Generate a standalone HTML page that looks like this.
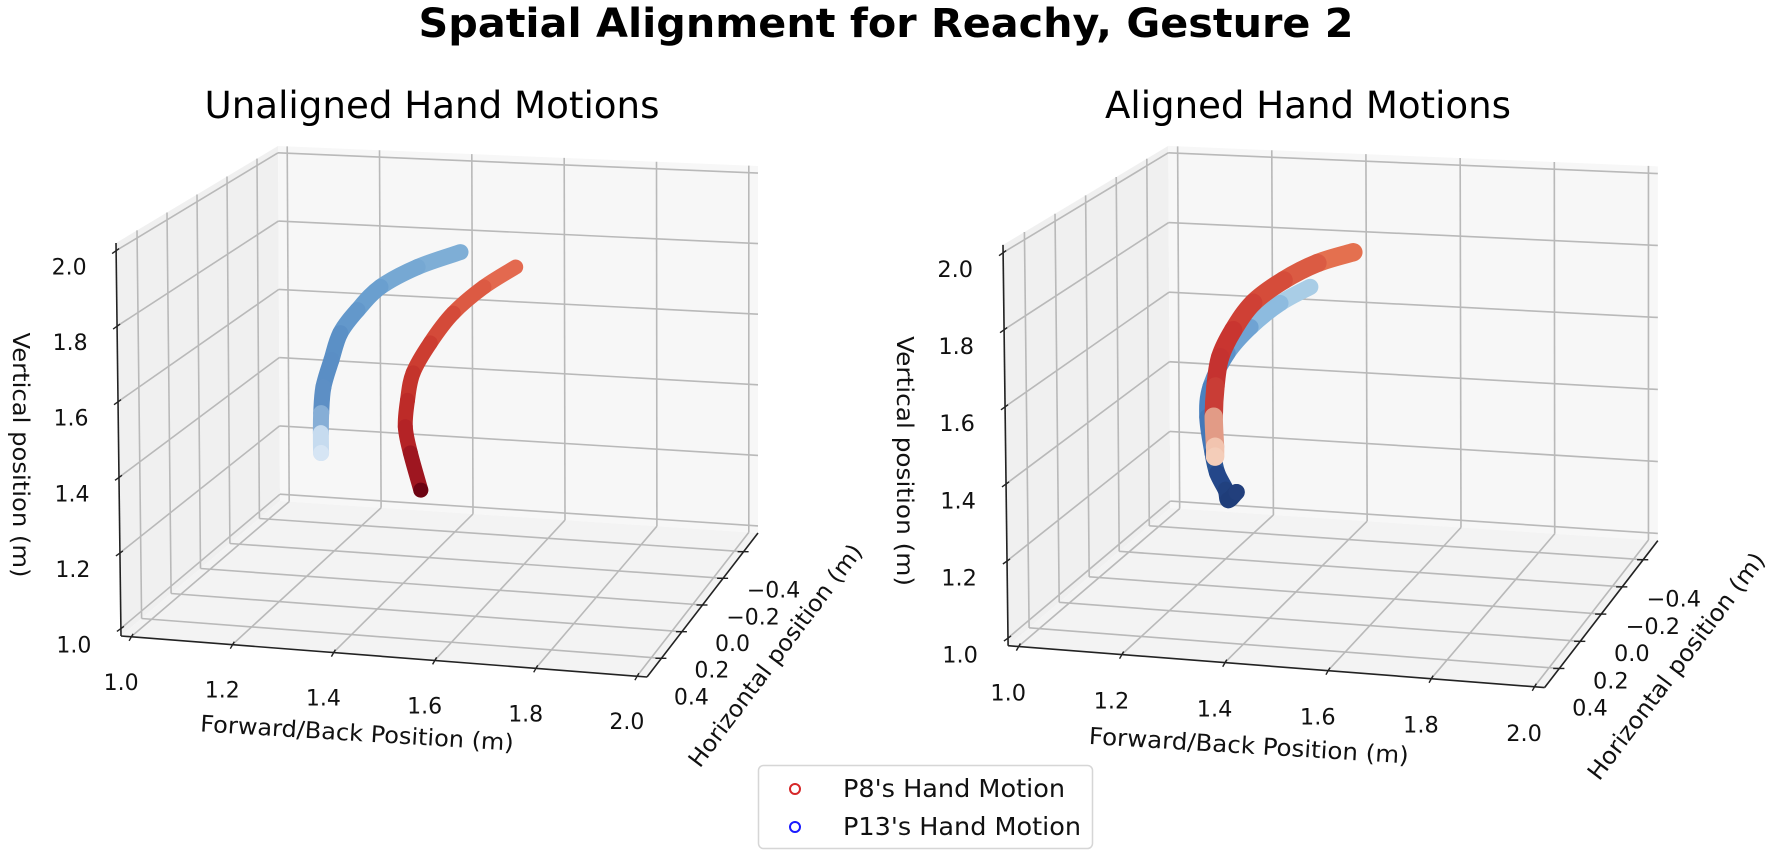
<!DOCTYPE html>
<html>
<head>
<meta charset="utf-8">
<style>
  html,body{margin:0;padding:0;background:#fff;}
  svg{display:block;font-family:"DejaVu Sans","Liberation Sans",sans-serif;}
</style>
</head>
<body>
<svg id="fig" width="1772" height="857" viewBox="0 0 1772 857" xmlns="http://www.w3.org/2000/svg">
  <rect x="0" y="0" width="1772" height="857" fill="#ffffff"/>
  <text x="886" y="37" text-anchor="middle" font-size="40" font-weight="bold" fill="#000" textLength="935" lengthAdjust="spacingAndGlyphs">Spatial Alignment for Reachy, Gesture 2</text>
  <text x="432" y="118" text-anchor="middle" font-size="37" fill="#000" textLength="455" lengthAdjust="spacingAndGlyphs">Unaligned Hand Motions</text>
  <text x="1308" y="118" text-anchor="middle" font-size="37" fill="#000" textLength="406" lengthAdjust="spacingAndGlyphs">Aligned Hand Motions</text>
  <g id="panelL"></g>
  <g id="panelR" transform="translate(1003,252) scale(1.02) translate(-116,-250)"></g>
  <g>
    <rect x="758.5" y="765.5" width="334" height="83" rx="5" fill="#fff" stroke="#d6d6d6" stroke-width="1.5"/>
    <circle cx="795" cy="789" r="5" fill="none" stroke="#d62728" stroke-width="2"/>
    <text x="843" y="797" font-size="25" fill="#111" textLength="222" lengthAdjust="spacingAndGlyphs">P8's Hand Motion</text>
    <circle cx="795" cy="827" r="5" fill="none" stroke="#1a1aff" stroke-width="2"/>
    <text x="843" y="835" font-size="25" fill="#111" textLength="238" lengthAdjust="spacingAndGlyphs">P13's Hand Motion</text>
  </g>
</svg>
<script>
// ---- axis data ----
const xTicks = [1.0, 1.2, 1.4, 1.6, 1.8, 2.0];
const xTickLabels = ["1.0", "1.2", "1.4", "1.6", "1.8", "2.0"];
const yTicks = [-0.4, -0.2, 0.0, 0.2, 0.4];
const yTickLabels = ["\u22120.4", "\u22120.2", "0.0", "0.2", "0.4"];
const zTicks = [1.0, 1.2, 1.4, 1.6, 1.8, 2.0];
const zTickLabels = ["1.0", "1.2", "1.4", "1.6", "1.8", "2.0"];
const xRange = [0.98, 2.02];
const yRange = [-0.54, 0.54];
const zRange = [0.98, 2.02];

// ---- series data (unaligned) ----
const p13UnalignedX = [1.524, 1.435, 1.358, 1.310, 1.274, 1.255, 1.238, 1.233, 1.232, 1.232];
const p13UnalignedY = [0, 0, 0, 0, 0, 0, 0, 0, 0, 0];
const p13UnalignedZ = [1.897, 1.850, 1.790, 1.723, 1.657, 1.581, 1.505, 1.433, 1.378, 1.323];
const p8UnalignedX = [1.638, 1.572, 1.508, 1.460, 1.424, 1.412, 1.407, 1.417, 1.438];
const p8UnalignedY = [0, 0, 0, 0, 0, 0, 0, 0, 0];
const p8UnalignedZ = [1.864, 1.805, 1.729, 1.644, 1.559, 1.483, 1.410, 1.339, 1.239];
// ---- series data (aligned) ----
const p8AlignedX = [1.522, 1.449, 1.380, 1.318, 1.277, 1.250, 1.240, 1.236, 1.238, 1.238];
const p8AlignedY = [0, 0, 0, 0, 0, 0, 0, 0, 0, 0];
const p8AlignedZ = [1.902, 1.868, 1.817, 1.752, 1.675, 1.600, 1.520, 1.438, 1.357, 1.330];
const p13AlignedX = [1.434, 1.373, 1.312, 1.265, 1.230, 1.223, 1.233, 1.242, 1.259, 1.264, 1.281];
const p13AlignedY = [0, 0, 0, 0, 0, 0, 0, 0, 0, 0, 0];
const p13AlignedZ = [1.803, 1.755, 1.686, 1.612, 1.518, 1.436, 1.340, 1.286, 1.242, 1.215, 1.238];

// ---- styles ----
const p13UnalignedColors = ["#7eaed6","#76a8d3","#6a9fcf","#6398cb","#5b90c6","#5a8ec5","#5d8fc5","#86aed6","#c6dbef","#d6e5f4"];
const p8UnalignedColors = ["#e3694f","#dc5a43","#d44a39","#cc3d31","#c4342c","#bd2b28","#b42326","#9e1620","#6d0312"];
const p8AlignedColors = ["#e4704f","#db5b43","#d54c3a","#cf4035","#c93530","#c53230","#c93d36","#e29b86","#f2c4af","#f4cdb9"];
const p13AlignedColors = ["#a9cde6","#8dbbdf","#6fa3d3","#5b91c8","#4a82c0","#4378b8","#2b5797","#24478a","#21417f","#1f3d79","#223f7c"];

const NS = "http://www.w3.org/2000/svg";
const C = {P000:[121,636],P100:[647,677],P010:[280,501],P110:[758,533],
           P001:[116,243],P101:[642,271],P011:[278,146],P111:[758,166]};
function lerp(a,b,t){return [a[0]+(b[0]-a[0])*t, a[1]+(b[1]-a[1])*t];}
function proj(x,y,z){
  const u=(x-xRange[0])/(xRange[1]-xRange[0]);
  const v=(yRange[1]-y)/(yRange[1]-yRange[0]);
  const w=(z-zRange[0])/(zRange[1]-zRange[0]);
  const c00=lerp(C.P000,C.P100,u), c10=lerp(C.P010,C.P110,u);
  const c01=lerp(C.P001,C.P101,u), c11=lerp(C.P011,C.P111,u);
  return lerp(lerp(c00,c10,v), lerp(c01,c11,v), w);
}
function mk(tag, attrs, parent){
  const e=document.createElementNS(NS,tag);
  for(const k in attrs) e.setAttribute(k, attrs[k]);
  parent.appendChild(e); return e;
}
function line(g,a,b,stroke,sw){
  return mk("line",{x1:a[0].toFixed(1),y1:a[1].toFixed(1),x2:b[0].toFixed(1),y2:b[1].toFixed(1),stroke:stroke,"stroke-width":sw},g);
}
function poly(g,pts,fill){
  return mk("polygon",{points:pts.map(p=>p[0].toFixed(1)+","+p[1].toFixed(1)).join(" "),fill:fill},g);
}
function f(n){return n.toFixed(1);}

function drawPanel(g, series){
  const x0=xRange[0],x1=xRange[1],yb=yRange[0],yf=yRange[1],z0=zRange[0],z1=zRange[1];
  let e;
  e=poly(g,[proj(x0,yf,z0),proj(x0,yb,z0),proj(x0,yb,z1),proj(x0,yf,z1)],"#f0f0f0");
  
  
  e=poly(g,[proj(x0,yb,z0),proj(x1,yb,z0),proj(x1,yb,z1),proj(x0,yb,z1)],"#f7f7f7");
  
  
  e=poly(g,[proj(x0,yf,z0),proj(x1,yf,z0),proj(x1,yb,z0),proj(x0,yb,z0)],"#f3f3f3");
  
  
  const gc="#b9b9b9", gw=1.6;
  xTicks.forEach(x=>{
    e=line(g,proj(x,yf,z0),proj(x,yb,z0),gc,gw);
    
    
    e=line(g,proj(x,yb,z0),proj(x,yb,z1),gc,gw);
    
    
  });
  yTicks.forEach(y=>{
    e=line(g,proj(x0,y,z0),proj(x1,y,z0),gc,gw);
    
    
    e=line(g,proj(x0,y,z0),proj(x0,y,z1),gc,gw);
    
    
  });
  zTicks.forEach(z=>{
    e=line(g,proj(x0,yf,z),proj(x0,yb,z),gc,gw);
    
    
    e=line(g,proj(x0,yb,z),proj(x1,yb,z),gc,gw);
    
    
  });
  const ac="#222", aw=1.6;
  e=line(g,proj(x0,yf,z0),proj(x0,yf,z1),ac,aw);
  
  
  e=line(g,proj(x0,yf,z0),proj(x1,yf,z0),ac,aw);
  
  
  e=line(g,proj(x1,yf,z0),proj(x1,yb,z0),ac,aw);
  
  
  zTicks.forEach((z,i)=>{
    const p=proj(x0,yf,z);
    e=line(g,[p[0]-4,p[1]+3],[p[0]+3,p[1]-2],ac,1.4);
    
    
    e=mk("text",{x:f(p[0]-47),y:f(p[1]+24),"text-anchor":"middle","font-size":"22",fill:"#111"},g);
    e.textContent=zTickLabels[i];
    
    
  });
  xTicks.forEach((x,i)=>{
    const p=proj(x,yf,z0);
    e=line(g,[p[0]-2,p[1]+4],[p[0]+2,p[1]-3],ac,1.4);
    
    
    e=mk("text",{x:f(p[0]-10),y:f(p[1]+53),"text-anchor":"middle","font-size":"22",fill:"#111"},g);
    e.textContent=xTickLabels[i];
    
    
  });
  yTicks.forEach((y,i)=>{
    const p=proj(x1,y,z0);
    e=line(g,[p[0]-6,p[1]],[p[0]+5,p[1]],ac,1.4);
    
    
    e=mk("text",{x:f(p[0]+30),y:f(p[1]+46),"text-anchor":"middle","font-size":"22",fill:"#111"},g);
    e.textContent=yTickLabels[i];
    
    
  });
  e=mk("text",{transform:"translate(20,455) rotate(90)","text-anchor":"middle","dominant-baseline":"central","font-size":"23",fill:"#111",textLength:"245",lengthAdjust:"spacingAndGlyphs"},g);
  e.textContent="Vertical position (m)";
  
  
  e=mk("text",{transform:"translate(357,734) rotate(3.5)","text-anchor":"middle","dominant-baseline":"central","font-size":"23",fill:"#111",textLength:"314",lengthAdjust:"spacingAndGlyphs"},g);
  e.textContent="Forward/Back Position (m)";
  
  
  e=mk("text",{transform:"translate(776,656) rotate(-53)","text-anchor":"middle","dominant-baseline":"central","font-size":"23",fill:"#111",textLength:"272",lengthAdjust:"spacingAndGlyphs"},g);
  e.textContent="Horizontal position (m)";
  
  
  series.forEach(s=>{
    const sg=mk("g",{},g);
    
    
    const pts=s.x.map((xv,i)=>proj(xv,s.y[i],s.z[i]));
    const n=pts.length;
    for(let i=0;i<n-1;i++){
      const pm=pts[Math.max(i-1,0)], p0=pts[i], p1=pts[i+1], p2=pts[Math.min(i+2,n-1)];
      const c1=[p0[0]+(p1[0]-pm[0])/6, p0[1]+(p1[1]-pm[1])/6];
      const c2=[p1[0]-(p2[0]-p0[0])/6, p1[1]-(p2[1]-p0[1])/6];
      const d="M"+f(p0[0])+","+f(p0[1])+" C"+f(c1[0])+","+f(c1[1])+" "+f(c2[0])+","+f(c2[1])+" "+f(p1[0])+","+f(p1[1]);
      const seg=mk("path",{d:d,fill:"none",stroke:s.colors[i],"stroke-width":s.width,"stroke-linecap":"round"},sg);
      
      
    }
    const last=pts[n-1];
    const cap=mk("circle",{cx:f(last[0]),cy:f(last[1]),r:f(s.width/2),fill:s.colors[s.colors.length-1]},sg);
    
    
  });
}

drawPanel(document.getElementById("panelL"), [
  {name:"p13-unaligned-trajectory", x:p13UnalignedX, y:p13UnalignedY, z:p13UnalignedZ, colors:p13UnalignedColors, width:16},
  {name:"p8-unaligned-trajectory", x:p8UnalignedX, y:p8UnalignedY, z:p8UnalignedZ, colors:p8UnalignedColors, width:15}
]);
drawPanel(document.getElementById("panelR"), [
  {name:"p13-aligned-trajectory", x:p13AlignedX, y:p13AlignedY, z:p13AlignedZ, colors:p13AlignedColors, width:16},
  {name:"p8-aligned-trajectory", x:p8AlignedX, y:p8AlignedY, z:p8AlignedZ, colors:p8AlignedColors, width:18}
]);
</script>
</body>
</html>
